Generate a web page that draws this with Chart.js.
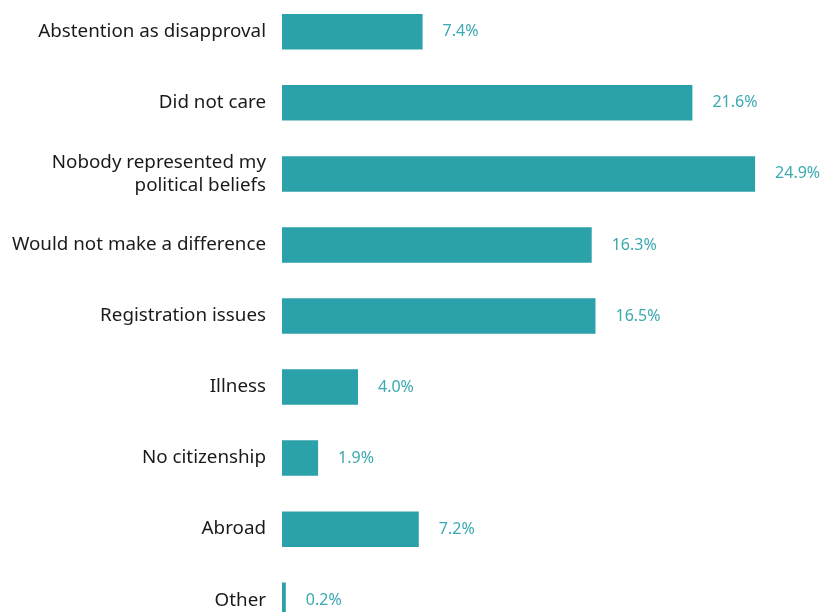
<!DOCTYPE html>
<html>
<head>
<meta charset="utf-8">
<script src="https://cdn.jsdelivr.net/npm/chart.js@4"></script>
<style>
  html, body { margin: 0; padding: 0; background: #fff; overflow: hidden; }
  #wrap { position: absolute; left: 0; top: -31px; width: 831px; height: 694px; }
</style>
</head>
<body>
<div id="wrap"><canvas id="reasons"></canvas></div>
<script>
const reasons = [
  'Abstention as disapproval',
  'Did not care',
  ['Nobody represented my', 'political beliefs'],
  'Would not make a difference',
  'Registration issues',
  'Illness',
  'No citizenship',
  'Abroad',
  'Other'
];
const shares = [7.4, 21.6, 24.9, 16.3, 16.5, 4.0, 1.9, 7.2, 0.2];

const teal = '#2ba1a9';

// writes the percentage just past the end of each bar
const valueLabels = {
  id: 'valueLabels',
  afterDatasetsDraw(chart) {
    const ctx = chart.ctx;
    const meta = chart.getDatasetMeta(0);
    ctx.save();
    ctx.font = '16px "Noto Sans"';
    ctx.fillStyle = '#3aa9b0';
    ctx.textAlign = 'left';
    ctx.textBaseline = 'middle';
    meta.data.forEach((bar, i) => {
      ctx.fillText(shares[i].toFixed(1) + '%', bar.x + 20, bar.y);
    });
    ctx.restore();
  }
};

new Chart(document.getElementById('reasons'), {
  type: 'bar',
  data: {
    labels: reasons,
    datasets: [{
      data: shares,
      backgroundColor: teal,
      borderWidth: 0,
      categoryPercentage: 1,
      barPercentage: 0.5
    }]
  },
  options: {
    indexAxis: 'y',
    responsive: true,
    maintainAspectRatio: false,
    animation: false,
    devicePixelRatio: 1,
    layout: { padding: { left: 0, right: 17, top: 0, bottom: 0 } },
    plugins: {
      legend: { display: false },
      tooltip: { enabled: false }
    },
    scales: {
      x: {
        display: false,
        min: 0,
        max: 28
      },
      y: {
        grid: { display: false, drawTicks: false },
        border: { display: false },
        ticks: {
          padding: 16,
          color: '#1a1a1a',
          font: { family: '"Noto Sans"', size: 18.8, lineHeight: 1.2 }
        },
        afterFit(scale) { scale.width = 282; }
      }
    }
  },
  plugins: [valueLabels]
});
</script>
</body>
</html>
